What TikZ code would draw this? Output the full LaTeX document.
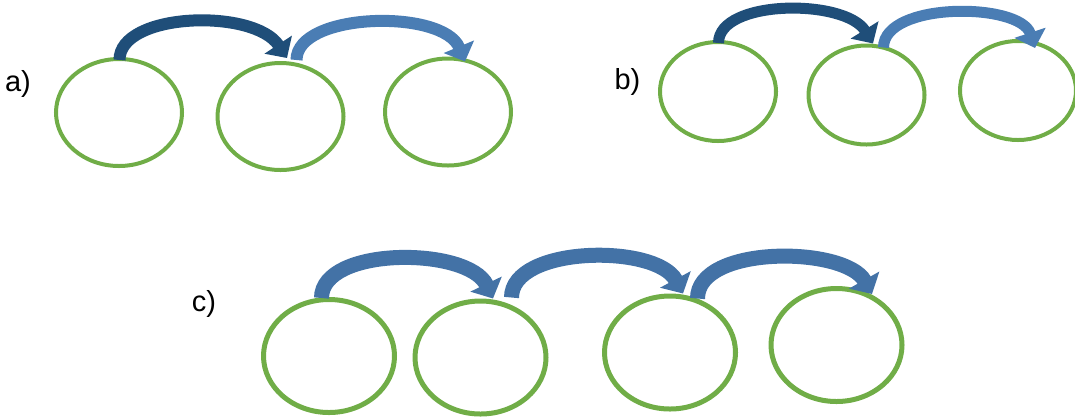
\documentclass[tikz,border=0pt]{standalone}
\usepackage{fontspec}
\setmainfont{Liberation Sans}
\usepackage{tikz}
\usetikzlibrary{arrows.meta, shapes, positioning, calc}
\definecolor{ringgreen}{HTML}{70AD47}
\definecolor{jumpdark}{HTML}{1F4E79}
\definecolor{jumplight}{HTML}{4A7DB4}
\definecolor{jumpmid}{HTML}{4372A6}

\begin{document}
\begin{tikzpicture}[x=0.5pt, y=-0.5pt,
        ring/.style={ellipse, draw=ringgreen, inner sep=0pt},
        ringa/.style={ring, line width=2pt, minimum width=63pt, minimum height=53.5pt},
        ringb/.style={ring, line width=2pt, minimum width=58pt, minimum height=49.5pt},
        ringc/.style={ring, line width=2.5pt, minimum width=65.5pt, minimum height=56.5pt},
        jump/.style={line width=6pt, -{Triangle[length=8pt, width=16pt]}},
        jumpc/.style={line width=7.5pt, draw=jumpmid, -{Triangle[length=8pt, width=17pt]}},
        tag/.style={inner sep=0pt, font=\fontsize{14.5}{17}\selectfont}]
        \useasboundingbox (0,0) rectangle (1075,419);

        % a)
        \node[tag] (la) at (18,84) {a)};
        \node[ringa] (a1) at (119,112.5) {};
        \node[ringa] (a2) [right = 15.75pt of a1, yshift=-2pt] {};
        \node[ringa] (a3) [right = 18.75pt of a2, yshift=2.25pt] {};

        \coordinate (ta1) at ($(a1.north)+(0.5,3)$);
        \coordinate (pa1) at ($(a2.north)+(6.5,-3)$);
        \coordinate (ta2) at ($(a2.north)+(16,-1)$);
        \coordinate (pa2) at ($(a3.north)+(17,5)$);
        \draw[jump, draw=jumpdark] (ta1) .. controls +(0,-48) and +(-33,-50) .. (pa1);
        \draw[jump, draw=jumplight] (ta2) .. controls +(0,-48) and +(-22,-53) .. (pa2);

        % b)
        \node[tag] (lb) at (627.5,82) {b)};
        \node[ringb] (b1) at (718,91.5) {};
        \node[ringb] (b2) [right = 14.25pt of b1, yshift=-1.75pt] {};
        \node[ringb] (b3) [right = 15.75pt of b2, yshift=2.25pt] {};

        \coordinate (tb1) at ($(b1.north)+(0.5,3)$);
        \coordinate (pb1) at ($(b2.north)+(6.5,0)$);
        \coordinate (tb2) at ($(b2.north)+(17,4)$);
        \coordinate (pb2) at ($(b3.north)+(17,9)$);
        \draw[jump, line width=5.5pt, draw=jumpdark] (tb1) .. controls +(0,-44) and +(-28,-45) .. (pb1);
        \draw[jump, line width=5.5pt, draw=jumplight] (tb2) .. controls +(0,-46) and +(-15,-46) .. (pb2);

        % c)
        \node[tag] (lc) at (204,303.5) {c)};
        \node[ringc] (c1) at (329,356) {};
        \node[ringc] (c2) [right = 7.75pt of c1, yshift=-0.75pt] {};
        \node[ringc] (c3) [right = 26.75pt of c2, yshift=2.5pt] {};
        \node[ringc] (c4) [right = 15.25pt of c3, yshift=3.75pt] {};

        \coordinate (tc1) at ($(c1.north)+(-7.5,1)$);
        \coordinate (pc1) at ($(c2.north)+(12.5,0)$);
        \coordinate (tc2) at ($(c2.north)+(31,-1)$);
        \coordinate (pc2) at ($(c3.north)+(13,0)$);
        \coordinate (tc3) at ($(c3.north)+(27.5,5)$);
        \coordinate (pc3) at ($(c4.north)+(35.5,8)$);
        \draw[jumpc] (tc1) .. controls +(0,-52) and +(-25,-52) .. (pc1);
        \draw[jumpc] (tc2) .. controls +(0,-52) and +(-27,-50) .. (pc2);
        \draw[jumpc] (tc3) .. controls +(0,-54) and +(-27,-48) .. (pc3);
\end{tikzpicture}
\end{document}
